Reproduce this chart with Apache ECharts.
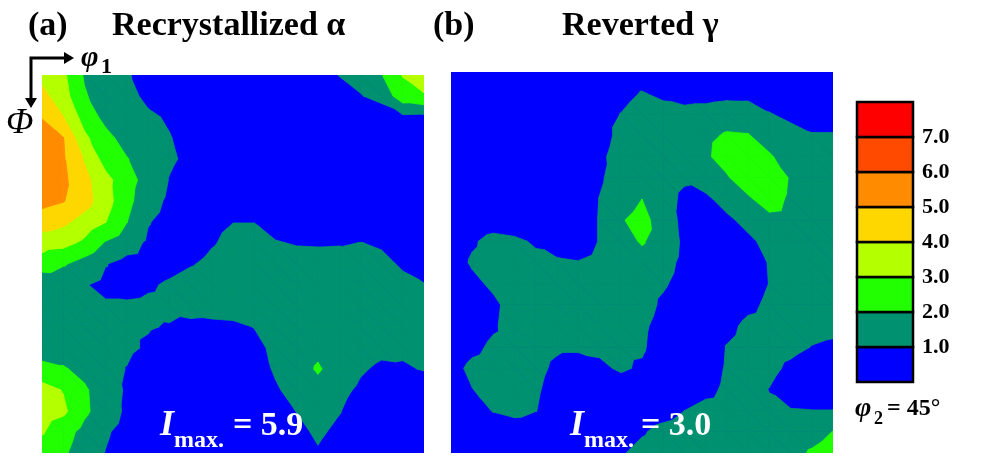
<!DOCTYPE html>
<html>
<head>
<meta charset="utf-8">
<title>ODF sections</title>
<script src="https://cdn.jsdelivr.net/npm/echarts@6/dist/echarts.min.js"></script>
<style>
  html, body { margin: 0; padding: 0; background: #fff; }
  #chart { width: 982px; height: 456px; }
</style>
</head>
<body>
<div id="chart"></div>
<script>
// grid nodes, degrees (phi1 across, Phi down)
const phi1Deg = [0, 5, 10, 15, 20, 25, 30, 35, 40, 45, 50, 55, 60, 65, 70, 75, 80, 85, 90];
const PhiDeg = [0, 5, 10, 15, 20, 25, 30, 35, 40, 45, 50, 55, 60, 65, 70, 75, 80, 85, 90];

// contour levels and band colours (band 0 = below 1.0)
const levels = [1, 2, 3, 4, 5, 6, 7];
const levelColors = ['#0000ff', '#009270', '#22ff00', '#b4ff00', '#ffd700', '#ff8c00', '#ff4a00', '#ff0000'];
const barBins = [0, 1, 2, 3, 4, 5, 6, 7];

// (a) recrystallized alpha, phi2 = 45 deg, one row per Phi
const odfA = [
  [3.7, 3.2, 1.9, 1.3, 1.05, 0.8, 0.6, 0.5, 0.5, 0.5, 0.5, 0.5, 0.6, 0.7, 1.02, 1.3, 1.95, 3.05, 3.6],
  [4.3, 3.4, 2.1, 1.5, 1.2, 0.85, 0.6, 0.5, 0.5, 0.5, 0.5, 0.5, 0.5, 0.55, 0.7, 0.95, 1.3, 2.6, 2.9],
  [4.95, 4.02, 2.6, 1.7, 1.4, 1.1, 0.93, 0.6, 0.5, 0.5, 0.5, 0.5, 0.5, 0.5, 0.5, 0.5, 0.45, 0.8, 0.75],
  [5.5, 5.03, 3.2, 2.3, 1.6, 1.3, 1.03, 0.8, 0.6, 0.5, 0.45, 0.45, 0.45, 0.45, 0.45, 0.45, 0.45, 0.45, 0.45],
  [5.9, 5.1, 3.9, 2.6, 2.05, 1.5, 1.1, 0.85, 0.6, 0.5, 0.45, 0.4, 0.4, 0.4, 0.4, 0.4, 0.4, 0.4, 0.4],
  [5.8, 5.2, 4.3, 3.3, 2.4, 1.6, 0.97, 0.7, 0.55, 0.5, 0.45, 0.4, 0.4, 0.4, 0.4, 0.4, 0.4, 0.4, 0.4],
  [5.3, 5.05, 4.4, 3.4, 2.3, 1.35, 0.85, 0.6, 0.55, 0.55, 0.5, 0.45, 0.45, 0.45, 0.45, 0.45, 0.45, 0.45, 0.4],
  [4.5, 4.2, 3.6, 3.02, 2.02, 1.05, 0.7, 0.7, 0.85, 0.99, 0.99, 0.7, 0.6, 0.6, 0.6, 0.65, 0.6, 0.5, 0.45],
  [3.4, 3.3, 2.8, 1.9, 1.4, 0.85, 0.6, 0.7, 0.95, 1.15, 1.2, 1.05, 0.95, 0.93, 0.95, 1.01, 0.95, 0.75, 0.6],
  [2.57, 2.1, 1.6, 1.03, 0.7, 0.6, 0.75, 0.95, 1.15, 1.3, 1.35, 1.35, 1.3, 1.3, 1.3, 1.25, 1.1, 0.95, 0.8],
  [1.1, 1.2, 1.05, 0.8, 0.75, 0.9, 1.1, 1.3, 1.4, 1.45, 1.45, 1.5, 1.5, 1.5, 1.45, 1.4, 1.3, 1.1, 1.02],
  [1.3, 1.35, 1.2, 1.1, 1.1, 1.15, 1.2, 1.3, 1.4, 1.45, 1.5, 1.6, 1.6, 1.6, 1.6, 1.55, 1.5, 1.4, 1.35],
  [1.4, 1.4, 1.3, 1.2, 1.15, 1.05, 0.95, 0.8, 0.75, 0.8, 1.02, 1.3, 1.45, 1.6, 1.6, 1.5, 1.4, 1.3, 1.2],
  [1.5, 1.5, 1.4, 1.3, 1.15, 0.9, 0.7, 0.6, 0.55, 0.6, 0.75, 1.2, 1.5, 1.8, 1.6, 1.4, 1.2, 1.15, 1.1],
  [2.3, 2.1, 1.7, 1.3, 0.97, 0.6, 0.5, 0.45, 0.4, 0.45, 0.6, 1.1, 1.6, 2.1, 1.6, 1.1, 0.85, 0.9, 1.05],
  [3.4, 2.95, 2.15, 1.4, 0.9, 0.5, 0.4, 0.35, 0.35, 0.4, 0.55, 0.9, 1.3, 1.7, 1.25, 0.85, 0.6, 0.5, 0.5],
  [3.5, 3.2, 2.2, 1.45, 0.85, 0.5, 0.35, 0.3, 0.3, 0.35, 0.45, 0.7, 1.02, 1.4, 1.05, 0.6, 0.4, 0.35, 0.35],
  [3.1, 2.4, 1.7, 1.1, 0.7, 0.4, 0.3, 0.3, 0.3, 0.3, 0.35, 0.5, 0.75, 1.15, 0.8, 0.5, 0.35, 0.3, 0.3],
  [2.4, 2.15, 1.5, 0.97, 0.6, 0.4, 0.3, 0.3, 0.3, 0.3, 0.3, 0.35, 0.55, 0.91, 0.55, 0.4, 0.3, 0.3, 0.3]
];

// (b) reverted gamma
const odfB = [
  [0.45, 0.45, 0.45, 0.45, 0.45, 0.45, 0.45, 0.5, 0.5, 0.55, 0.5, 0.45, 0.45, 0.45, 0.45, 0.45, 0.45, 0.45, 0.45],
  [0.45, 0.45, 0.45, 0.45, 0.45, 0.5, 0.5, 0.55, 0.7, 1.05, 0.8, 0.6, 0.6, 0.7, 0.7, 0.6, 0.5, 0.5, 0.5],
  [0.45, 0.45, 0.45, 0.45, 0.5, 0.5, 0.55, 0.6, 1.02, 1.4, 1.35, 1.3, 1.4, 1.55, 1.5, 1.05, 0.8, 0.7, 0.65],
  [0.45, 0.45, 0.45, 0.45, 0.5, 0.5, 0.55, 0.6, 1.25, 1.5, 1.5, 1.55, 1.8, 2.1, 2.05, 1.6, 1.3, 1.05, 1.05],
  [0.45, 0.45, 0.45, 0.45, 0.5, 0.5, 0.6, 0.8, 1.4, 1.55, 1.55, 1.6, 1.85, 2.4, 2.7, 2.1, 1.6, 1.3, 1.2],
  [0.45, 0.45, 0.45, 0.45, 0.5, 0.5, 0.55, 0.9, 1.35, 1.5, 1.35, 1.1, 1.5, 1.9, 2.6, 2.8, 1.9, 1.5, 1.3],
  [0.45, 0.45, 0.45, 0.45, 0.5, 0.5, 0.5, 1.02, 1.4, 2.0, 1.3, 0.85, 0.8, 1.4, 1.85, 2.5, 1.8, 1.5, 1.35],
  [0.45, 0.45, 0.6, 0.5, 0.5, 0.5, 0.5, 1.05, 1.9, 2.4, 1.4, 0.8, 0.55, 0.8, 1.3, 1.7, 1.6, 1.4, 1.3],
  [0.5, 0.9, 1.25, 1.15, 0.9, 0.5, 0.45, 1.05, 1.6, 2.1, 1.5, 0.85, 0.5, 0.45, 0.8, 1.3, 1.45, 1.4, 1.3],
  [0.6, 1.1, 1.3, 1.25, 1.2, 1.15, 1.05, 1.3, 1.6, 1.6, 1.3, 0.8, 0.4, 0.35, 0.6, 1.05, 1.3, 1.3, 1.25],
  [0.5, 0.8, 1.15, 1.4, 1.45, 1.4, 1.35, 1.4, 1.5, 1.4, 1.1, 0.7, 0.35, 0.3, 0.55, 1.02, 1.3, 1.3, 1.25],
  [0.45, 0.55, 0.85, 1.3, 1.5, 1.5, 1.5, 1.55, 1.55, 1.35, 0.85, 0.5, 0.3, 0.3, 0.75, 1.2, 1.4, 1.4, 1.35],
  [0.45, 0.6, 0.9, 1.35, 1.55, 1.6, 1.55, 1.5, 1.4, 1.15, 0.7, 0.4, 0.35, 0.7, 1.25, 1.4, 1.3, 1.2, 1.15],
  [0.4, 0.8, 1.15, 1.3, 1.3, 1.1, 1.1, 1.15, 1.15, 1.1, 0.6, 0.35, 0.35, 1.05, 1.4, 1.35, 1.2, 0.98, 0.9],
  [0.7, 1.2, 1.35, 1.35, 1.2, 0.85, 0.7, 0.85, 1.1, 0.9, 0.5, 0.3, 0.5, 1.1, 1.3, 1.2, 0.85, 0.6, 0.55],
  [0.55, 0.98, 1.3, 1.35, 1.1, 0.7, 0.45, 0.45, 0.6, 0.45, 0.35, 0.35, 0.7, 1.2, 1.3, 0.98, 0.6, 0.45, 0.45],
  [0.45, 0.6, 1.05, 1.25, 1.02, 0.6, 0.4, 0.35, 0.35, 0.4, 0.6, 1.0, 1.35, 1.45, 1.4, 1.1, 1.05, 1.02, 1.02],
  [0.4, 0.4, 0.45, 0.5, 0.45, 0.4, 0.4, 0.45, 0.5, 0.9, 1.3, 1.5, 1.6, 1.6, 1.55, 1.5, 1.5, 1.65, 2.02],
  [0.4, 0.4, 0.4, 0.4, 0.4, 0.4, 0.45, 0.6, 0.9, 1.3, 1.5, 1.6, 1.6, 1.6, 1.6, 1.6, 1.7, 2.1, 2.4]
];

const SERIF = '"Liberation Serif", "Times New Roman", serif';

// one item per grid cell: corners + the four node values
function buildCells(grid) {
  const cells = [];
  for (let j = 0; j < PhiDeg.length - 1; j++) {
    for (let i = 0; i < phi1Deg.length - 1; i++) {
      cells.push([phi1Deg[i], PhiDeg[j], phi1Deg[i + 1], PhiDeg[j + 1],
        grid[j][i], grid[j][i + 1], grid[j + 1][i + 1], grid[j + 1][i]]);
    }
  }
  return cells;
}

// part of a triangle where the linear field is >= t
function clipAbove(pts, vals, t) {
  const out = [];
  for (let k = 0; k < pts.length; k++) {
    const a = pts[k], b = pts[(k + 1) % pts.length];
    const va = vals[k], vb = vals[(k + 1) % pts.length];
    if (va >= t) out.push(a);
    if ((va >= t) !== (vb >= t)) {
      const f = (t - va) / (vb - va);
      out.push([a[0] + (b[0] - a[0]) * f, a[1] + (b[1] - a[1]) * f]);
    }
  }
  return out;
}

function renderCell(params, api) {
  const p00 = api.coord([api.value(0), api.value(1)]);
  const p11 = api.coord([api.value(2), api.value(3)]);
  const pts = [p00, [p11[0], p00[1]], p11, [p00[0], p11[1]]];
  const vals = [api.value(4), api.value(5), api.value(6), api.value(7)];
  const tris = [[0, 1, 2], [0, 2, 3]];
  const children = [];
  levels.forEach(function (t, k) {
    const c = levelColors[k + 1];
    tris.forEach(function (tri) {
      const poly = clipAbove(tri.map(n => pts[n]), tri.map(n => vals[n]), t);
      if (poly.length >= 3) {
        children.push({
          type: 'polygon',
          z2: k + 1, // higher bands always on top, across cells
          shape: { points: poly },
          style: { fill: c, stroke: c, lineWidth: 0.8 }
        });
      }
    });
  });
  return { type: 'group', children: children };
}

function renderBin(params, api) {
  const k = api.value(1);
  const a = api.coord([0, k + 1]);
  const b = api.coord([1, k]);
  return {
    type: 'rect',
    shape: { x: a[0], y: a[1], width: b[0] - a[0], height: b[1] - a[1] },
    style: { fill: levelColors[k], stroke: '#000', lineWidth: 2.5 }
  };
}

function txt(x, y, s, font, align, color) {
  return {
    type: 'text', x: x, y: y, z: 100,
    style: { text: s, font: font, fill: color || '#000', textAlign: align || 'left', textVerticalAlign: 'middle' }
  };
}

const chart = echarts.init(document.getElementById('chart'));

const hideAxis = { show: false };
const option = {
  backgroundColor: '#fff',
  animation: false,
  grid: [
    { left: 42, top: 75, width: 382, height: 378, show: true, backgroundColor: levelColors[0], borderWidth: 0 },
    { left: 451, top: 72, width: 382, height: 381, show: true, backgroundColor: levelColors[0], borderWidth: 0 },
    { left: 857, top: 102, width: 56, height: 280 }
  ],
  xAxis: [
    Object.assign({ type: 'value', min: 0, max: 90, gridIndex: 0 }, hideAxis),
    Object.assign({ type: 'value', min: 0, max: 90, gridIndex: 1 }, hideAxis),
    Object.assign({ type: 'value', min: 0, max: 1, gridIndex: 2 }, hideAxis)
  ],
  yAxis: [
    Object.assign({ type: 'value', min: 0, max: 90, inverse: true, gridIndex: 0 }, hideAxis),
    Object.assign({ type: 'value', min: 0, max: 90, inverse: true, gridIndex: 1 }, hideAxis),
    {
      type: 'value', min: 0, max: 8, interval: 1, gridIndex: 2, position: 'right',
      axisLine: { show: false }, axisTick: { show: false }, splitLine: { show: false },
      axisLabel: {
        margin: 9, color: '#000', fontFamily: SERIF, fontWeight: 'bold', fontSize: 22,
        formatter: v => (levels.indexOf(v) >= 0 ? v.toFixed(1) : '')
      }
    }
  ],
  series: [
    { type: 'custom', xAxisIndex: 0, yAxisIndex: 0, renderItem: renderCell, data: buildCells(odfA), clip: true },
    { type: 'custom', xAxisIndex: 1, yAxisIndex: 1, renderItem: renderCell, data: buildCells(odfB), clip: true },
    { type: 'custom', xAxisIndex: 2, yAxisIndex: 2, renderItem: renderBin, data: barBins.map(k => [0, k]) }
  ],
  graphic: [
    txt(28, 26, '(a)', 'bold 34px ' + SERIF),
    txt(112, 26, 'Recrystallized α', 'bold 34px ' + SERIF),
    txt(433, 26, '(b)', 'bold 34px ' + SERIF),
    txt(562, 26, 'Reverted γ', 'bold 34px ' + SERIF),

    // axis directions
    { type: 'polyline', z: 100, shape: { points: [[66, 58], [31, 58], [31, 100]] }, style: { stroke: '#000', lineWidth: 3, fill: null } },
    { type: 'polygon', z: 100, shape: { points: [[64, 52], [74, 58], [64, 64]] }, style: { fill: '#000' } },
    { type: 'polygon', z: 100, shape: { points: [[25, 98], [31, 108], [37, 98]] }, style: { fill: '#000' } },
    txt(81, 58, 'φ', 'italic bold 30px ' + SERIF),
    txt(101, 67, '1', 'bold 22px ' + SERIF),
    txt(6, 124, 'Φ', 'italic 36px ' + SERIF),

    // maxima
    txt(160, 426, 'I', 'italic bold 36px ' + SERIF, 'left', '#fff'),
    txt(174, 441, 'max.', 'bold 24px ' + SERIF, 'left', '#fff'),
    txt(233, 426, '= 5.9', 'bold 34px ' + SERIF, 'left', '#fff'),
    txt(570, 426, 'I', 'italic bold 36px ' + SERIF, 'left', '#fff'),
    txt(584, 441, 'max.', 'bold 24px ' + SERIF, 'left', '#fff'),
    txt(641, 426, '= 3.0', 'bold 34px ' + SERIF, 'left', '#fff'),

    // section label
    txt(855, 409, 'φ', 'italic bold 28px ' + SERIF),
    txt(874, 419, '2', 'bold 18px ' + SERIF),
    txt(887, 409, '= 45°', 'bold 24px ' + SERIF)
  ]
};
chart.setOption(option);
</script>
</body>
</html>
